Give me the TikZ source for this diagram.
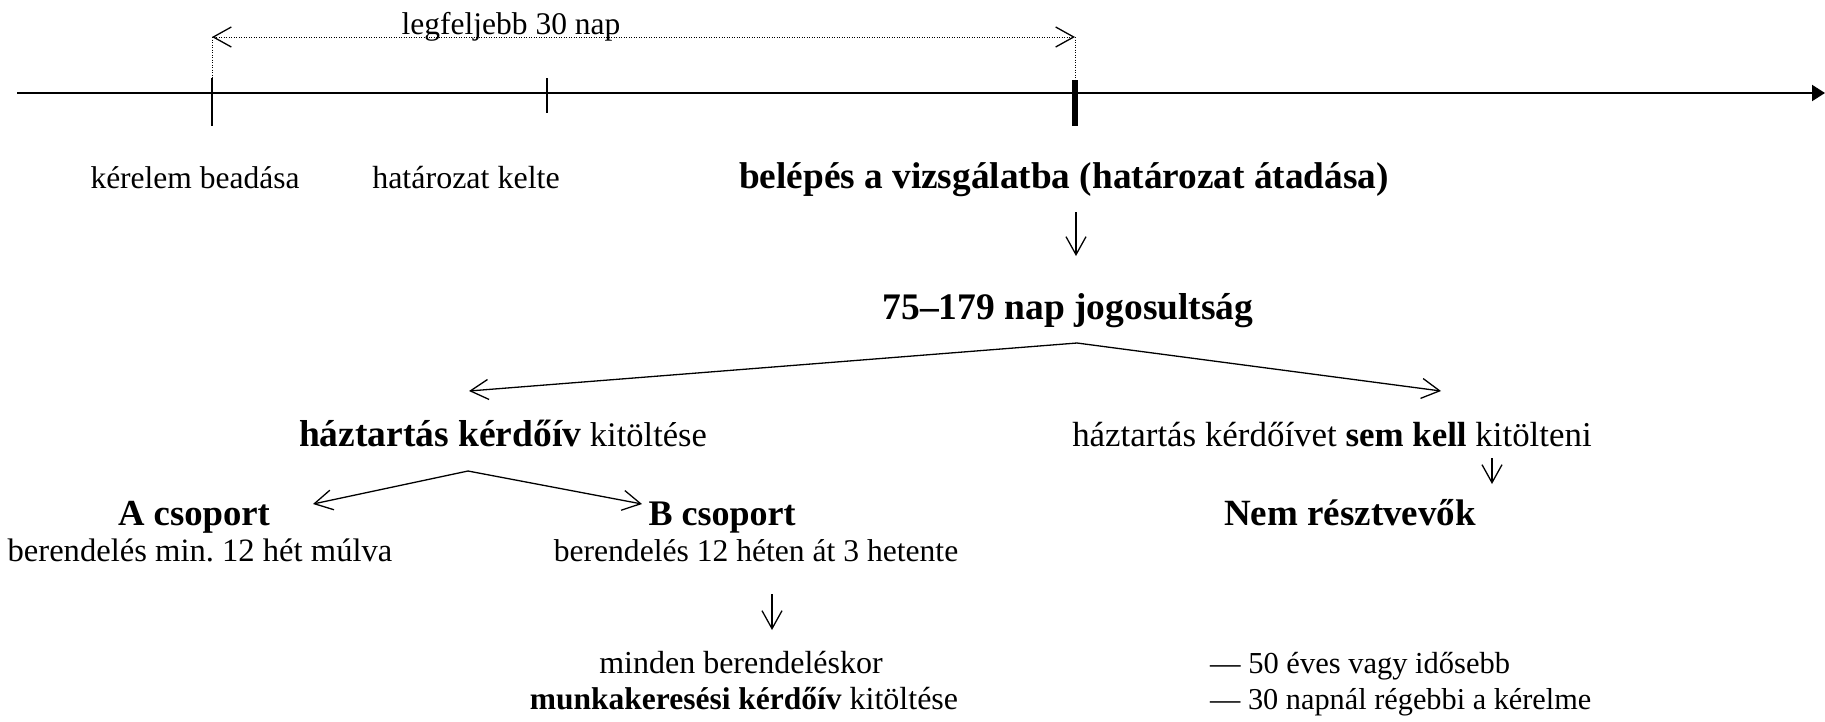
\documentclass[tikz,border=0pt]{standalone}
\usepackage{fontspec}
\setmainfont{Liberation Serif}
\usetikzlibrary{arrows.meta}
\newcommand{\fsz}[1]{\fontsize{#1}{#1}\selectfont}
\frenchspacing
\tikzset{
  txt/.style={inner sep=0pt, anchor=base},
  barb/.tip={Straight Barb[length=18pt,width=20pt,line width=1.3pt]},
  conn/.style={line width=1.3pt, -barb},
  tick/.style={line width=1.3pt},
  dots/.style={line width=1pt, dash pattern=on 1pt off 1.5pt},
}
\begin{document}
\begin{tikzpicture}[x=1pt,y=-1pt]
\useasboundingbox (0,0) rectangle (1825,721);
% timeline
\coordinate (tl0) at (17,93);
\coordinate (tl1) at (1825,93);
\draw[line width=2pt, -{Triangle[length=13pt,width=16pt]}] (tl0) -- (tl1);
\coordinate (k1t) at (212,78); \coordinate (k1b) at (212,126);
\coordinate (k2t) at (547,78); \coordinate (k2b) at (547,113);
\coordinate (k3t) at (1075,80); \coordinate (k3b) at (1075,126);
\draw[tick] (k1t) -- (k1b);
\draw[tick] (k2t) -- (k2b);
\draw[line width=6pt] (k3t) -- (k3b);
\coordinate (d1) at (212,37); \coordinate (d2) at (1075,37);
\draw[dots] (d1) -- (k1t);
\draw[dots] (d2) -- (k3t);
\draw[dots, barb-barb] (d1) -- (d2);
\node[txt, font=\fsz{31.5}] (leg) at (511,34) {legfeljebb 30 nap};
% row 1
\node[txt, font=\fsz{31.5}] (ker) at (195,188) {kérelem beadása};
\node[txt, font=\fsz{32}] (hat) at (466,188) {határozat kelte};
\node[txt, font=\fsz{37.3}\bfseries] (bel) at (1064,188) {belépés a vizsgálatba (határozat átadása)};
\coordinate (a1s) at (1076,212); \coordinate (a1e) at (1076,256);
\draw[conn] (a1s) -- (a1e);
\node[txt, font=\fsz{37.5}\bfseries] (jog) at (1068,319) {75–179 nap jogosultság};
% branch 1
\coordinate (b1) at (1077,343);
\coordinate (b1l) at (469,391);
\coordinate (b1r) at (1441,391);
\draw[conn] (b1) -- (b1l);
\draw[conn] (b1) -- (b1r);
\node[txt] (hk) at (503,446) {\fsz{37.5}\bfseries háztartás kérdőív\fsz{34.5}\mdseries\ kitöltése};
\node[txt, font=\fsz{34.9}] (hs) at (1332,446) {háztartás kérdőívet \textbf{sem kell} kitölteni};
\coordinate (a2s) at (1492,458); \coordinate (a2e) at (1492,484);
\draw[conn] (a2s) -- (a2e);
% branch 2
\coordinate (b2) at (468,471);
\coordinate (b2l) at (313,504);
\coordinate (b2r) at (642,504);
\draw[conn] (b2) -- (b2l);
\draw[conn] (b2) -- (b2r);
\node[txt, font=\fsz{36.7}\bfseries] (ac) at (194,525) {A csoport};
\node[txt, font=\fsz{32.6}] (am) at (200,561) {berendelés min. 12 hét múlva};
\node[txt, font=\fsz{36}\bfseries] (bc) at (722,525) {B csoport};
\node[txt, font=\fsz{31.6}] (bm) at (756,561) {berendelés 12 héten át 3 hetente};
\node[txt, font=\fsz{37}\bfseries] (nem) at (1350,525) {Nem résztvevők};
\coordinate (a3s) at (772,594); \coordinate (a3e) at (772,630);
\draw[conn] (a3s) -- (a3e);
\node[txt, font=\fsz{32}] (mind) at (741,673) {minden berendeléskor};
\node[txt] (munk) at (744,709) {\fsz{31.5}\bfseries munkakeresési kérdőív\fsz{32}\mdseries\ kitöltése};
\node[txt, anchor=base west, font=\fsz{30.5}] (c1) at (1210,673) {— 50 éves vagy idősebb};
\node[txt, anchor=base west, font=\fsz{30.3}] (c2) at (1210,709) {— 30 napnál régebbi a kérelme};
\end{tikzpicture}
\end{document}
